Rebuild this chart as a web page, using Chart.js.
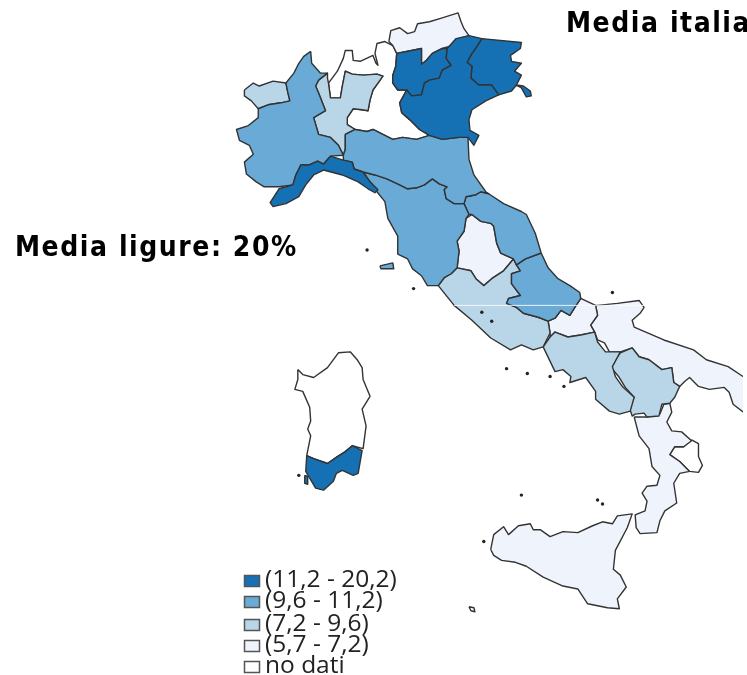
<!DOCTYPE html>
<html>
<head>
<meta charset="utf-8">
<title>Media ligure</title>
<script src="https://cdn.jsdelivr.net/npm/chart.js@4"></script>
<style>
html, body { margin: 0; padding: 0; background: #fff; overflow: hidden; }
#mappa { display: block; }
</style>
</head>
<body>
<canvas id="mappa" width="747" height="675"></canvas>
<script>
// classi della legenda
const classi = ['(11,2 - 20,2)', '(9,6 - 11,2)', '(7,2 - 9,6)', '(5,7 - 7,2)', 'no dati'];
const coloriClassi = ['#1570b4', '#69aad6', '#b9d5e8', '#eff3fb', '#ffffff'];

const altoAdige = [[389,38],[391,27],[400,24],[408,30],[415,28],[418,20],[430,18],[443,14],[459,9],[462,18],[465,25],[470,32],[460,35],[450,43],[443,45],[433,50],[427,57],[422,61],[422,45],[412,47],[397,50],[393,42]];
const trentino = [[397,50],[412,47],[422,45],[422,61],[427,57],[433,50],[443,45],[448,45],[447,55],[452,62],[443,67],[440,75],[430,77],[425,80],[422,92],[412,93],[407,87],[398,87],[393,80],[393,72],[396,63]];
const veneto = [[448,45],[457,35],[470,32],[483,35],[478,43],[473,50],[468,59],[473,63],[472,75],[480,82],[493,82],[500,92],[487,98],[473,107],[470,117],[471,128],[480,133],[475,143],[469,135],[460,135],[443,137],[430,133],[420,127],[410,117],[402,110],[400,100],[407,87],[412,93],[422,92],[425,80],[430,77],[440,75],[443,67],[452,62],[447,55]];
const friuli = [[483,35],[523,39],[522,45],[512,52],[513,58],[523,60],[516,68],[523,72],[518,82],[525,83],[532,88],[533,93],[528,94],[523,85],[518,82],[513,88],[500,92],[493,82],[480,82],[472,75],[473,63],[468,59],[473,50],[478,43]];
const lombardia = [[327,75],[328,80],[330,95],[340,95],[342,83],[345,68],[352,71],[363,72],[377,71],[383,73],[378,80],[373,87],[370,97],[368,108],[362,107],[353,106],[347,115],[347,122],[355,127],[345,132],[345,147],[343,153],[338,143],[330,135],[318,132],[313,115],[325,108],[318,90],[315,83],[318,77],[327,70]];
const lombardiaNord = [[330,95],[328,80],[337,68],[343,55],[345,47],[352,47],[353,57],[360,58],[373,52],[376,60],[378,62],[375,50],[377,40],[385,38],[393,42],[397,50],[396,63],[393,72],[393,80],[398,87],[407,87],[400,100],[402,110],[410,117],[420,127],[430,133],[417,137],[403,135],[393,137],[383,132],[373,127],[367,129],[355,127],[347,122],[347,115],[353,106],[362,107],[368,108],[370,97],[373,87],[378,80],[383,73],[377,71],[363,72],[352,71],[345,68],[342,83],[340,95]];
const aosta = [[243,87],[252,80],[258,83],[272,78],[285,80],[287,90],[289,98],[280,100],[267,102],[257,106],[250,98],[243,93]];
const piemonte = [[310,48],[311,60],[320,70],[327,70],[318,77],[315,83],[318,90],[325,108],[313,115],[318,132],[330,135],[338,143],[343,153],[330,154],[323,162],[317,159],[308,163],[300,163],[295,173],[292,183],[278,185],[263,185],[255,180],[245,172],[243,160],[252,152],[248,143],[238,138],[235,127],[247,123],[257,115],[257,106],[267,102],[280,100],[289,98],[287,90],[285,80],[293,70],[298,60],[303,53]];
const liguria = [[330,154],[343,158],[352,160],[354,167],[363,170],[370,180],[378,188],[375,191],[368,187],[358,180],[342,173],[323,168],[313,173],[305,183],[298,195],[285,202],[272,205],[269,201],[278,187],[292,183],[295,173],[300,163],[308,163],[317,159],[323,162]];
const emilia = [[345,132],[355,127],[367,129],[373,127],[383,132],[393,137],[403,135],[417,137],[430,133],[443,137],[460,135],[469,135],[470,157],[475,173],[487,190],[490,192],[482,190],[477,193],[467,195],[465,202],[455,202],[447,197],[445,188],[448,185],[440,182],[433,177],[425,183],[417,186],[408,187],[400,183],[387,177],[375,173],[363,170],[354,167],[352,160],[343,158],[343,153],[345,147]];
const toscana = [[363,170],[375,173],[387,177],[400,183],[408,187],[417,186],[425,183],[433,177],[440,182],[448,185],[445,188],[447,197],[455,202],[465,202],[470,213],[467,217],[465,230],[458,240],[460,250],[458,267],[452,273],[445,277],[439,285],[428,285],[422,275],[413,268],[408,258],[398,253],[398,235],[388,217],[385,200],[377,190],[370,180]];
const umbria = [[473,213],[467,217],[465,230],[458,240],[460,250],[458,267],[472,270],[477,278],[485,285],[493,278],[505,270],[515,258],[502,252],[498,242],[495,225],[492,222],[482,220]];
const marche = [[490,192],[505,202],[523,210],[528,213],[537,232],[543,252],[527,258],[518,264],[515,258],[502,252],[498,242],[495,225],[492,222],[482,220],[473,213],[470,213],[465,202],[467,195],[477,193],[482,190]];
const abruzzo = [[543,252],[550,267],[560,278],[572,285],[582,292],[583,298],[577,307],[572,315],[563,310],[557,318],[550,321],[540,317],[525,313],[518,307],[508,303],[510,298],[522,295],[513,283],[513,273],[522,270],[518,264],[527,258]];
const lazio = [[439,285],[455,305],[473,320],[492,338],[512,350],[523,345],[535,350],[545,347],[552,333],[550,321],[540,317],[525,313],[518,307],[508,303],[510,298],[522,295],[513,283],[513,273],[522,270],[518,264],[515,258],[505,270],[493,278],[485,285],[477,278],[472,270],[458,267],[452,273],[445,277]];
const molise = [[550,321],[557,318],[563,310],[572,315],[577,307],[583,298],[598,305],[600,315],[593,325],[597,332],[583,335],[570,337],[557,332],[552,337],[552,333]];
const puglia = [[598,305],[600,305],[620,303],[642,300],[647,307],[643,313],[635,320],[637,327],[667,340],[697,350],[710,360],[732,367],[750,379],[750,415],[737,405],[733,393],[728,388],[713,390],[702,387],[693,378],[688,382],[683,387],[677,383],[675,368],[665,370],[652,360],[642,357],[635,348],[623,352],[612,352],[607,343],[600,340],[597,332],[593,325],[600,315]];
const campania = [[545,347],[552,337],[557,332],[570,337],[583,335],[597,332],[600,342],[608,352],[623,352],[615,367],[618,377],[625,387],[637,398],[633,412],[622,415],[612,412],[598,400],[598,392],[588,378],[572,383],[573,377],[565,370],[557,372]];
const basilicata = [[623,353],[635,348],[642,357],[652,360],[665,370],[675,368],[677,383],[683,387],[678,398],[673,404],[665,405],[662,417],[650,418],[647,414],[638,415],[635,417],[632,408],[637,398],[628,388],[622,378],[613,367]];
const calabria = [[637,418],[650,418],[663,415],[667,405],[673,404],[675,413],[670,423],[675,432],[685,433],[695,442],[687,448],[678,448],[673,456],[683,463],[693,473],[683,475],[677,485],[680,505],[668,513],[663,523],[660,535],[643,536],[639,530],[638,517],[648,513],[650,503],[645,495],[650,488],[660,487],[663,477],[655,468],[652,450],[642,437]];
const crotone = [[695,441],[702,445],[702,458],[706,467],[702,474],[693,473],[683,463],[673,456],[678,448],[687,448]];
const sicilia = [[492,552],[495,537],[505,529],[510,537],[520,528],[532,526],[535,532],[542,532],[552,539],[565,534],[580,535],[595,528],[605,524],[615,526],[620,518],[635,516],[630,530],[618,553],[616,572],[623,578],[629,590],[620,602],[622,612],[610,611],[590,607],[580,592],[565,589],[545,580],[528,569],[517,565],[503,563],[495,558]];
const sardegnaNord = [[297,370],[302,375],[313,378],[327,368],[338,353],[350,352],[357,360],[362,368],[363,380],[370,397],[362,410],[366,427],[363,450],[352,447],[345,453],[337,458],[327,465],[313,460],[306,457],[310,437],[307,430],[310,422],[309,408],[302,392],[294,390],[297,380]];
const sardegnaSud = [[306,457],[313,460],[327,465],[337,458],[345,453],[352,447],[362,452],[358,475],[353,477],[342,472],[336,475],[333,483],[323,492],[315,490],[305,473]];
const elba = [[380,265],[393,262],[394,268],[381,268]];
const santAntioco = [[304,477],[307,478],[307,486],[304,485]];
const pantelleria = [[470,610],[475,611],[476,615],[472,614]];
const isolette = [[367,249],[414,288],[483,312],[493,321],[508,369],[529,374],[552,377],[566,387],[615,292],[523,497],[600,502],[605,506],[485,544],[298,477]];
const cucitura = [[455,305],[647,305]];

const regioni = [
  [veneto, 0], [trentino, 0], [friuli, 0], [liguria, 0], [sardegnaSud, 0], [santAntioco, 0],
  [piemonte, 1], [emilia, 1], [toscana, 1], [marche, 1], [abruzzo, 1], [elba, 1],
  [aosta, 2], [lombardia, 2], [lazio, 2], [campania, 2], [basilicata, 2],
  [altoAdige, 3], [umbria, 3], [molise, 3], [puglia, 3], [calabria, 3], [sicilia, 3],
  [lombardiaNord, 4], [crotone, 4], [sardegnaNord, 4], [pantelleria, 4]
];

const datasets = regioni.map(([punti, classe]) => ({
  data: punti.concat([punti[0]]),
  showLine: true,
  tension: 0,
  pointRadius: 0,
  fill: 'shape',
  backgroundColor: coloriClassi[classe],
  borderColor: '#333',
  borderWidth: 1.4,
  borderJoinStyle: 'round'
}));
datasets.unshift({ data: isolette, showLine: false, pointRadius: 1.7, pointBackgroundColor: '#222', pointBorderWidth: 0 });
datasets.unshift({ data: cucitura, showLine: true, pointRadius: 0, borderColor: 'rgba(255,255,255,0.85)', borderWidth: 1, fill: false });

// legenda e scritte
const testi = {
  id: 'testi',
  afterDraw(chart) {
    const c = chart.ctx;
    c.save();
    classi.forEach((t, i) => {
      const y = [581, 602, 625, 646, 667][i];
      c.fillStyle = coloriClassi[i];
      c.strokeStyle = '#555';
      c.lineWidth = 1.5;
      c.fillRect(244, y - 6, 16, 12);
      c.strokeRect(244.5, y - 5.5, 15, 11);
      c.fillStyle = '#222';
      c.font = '24.5px "Open Sans"';
      c.textBaseline = 'middle';
      c.fillText(t, 265, y - 1);
    });
    c.fillStyle = '#000';
    c.textBaseline = 'alphabetic';
    c.font = 'bold 28px "DejaVu Sans Condensed"';
    c.letterSpacing = '1.55px';
    c.fillText('Media italia', 566, 32);
    c.fillText('Media ligure: 20%', 15, 256);
    c.restore();
  }
};

new Chart(document.getElementById('mappa'), {
  type: 'scatter',
  data: { datasets },
  plugins: [testi],
  options: {
    responsive: false,
    animation: false,
    layout: { padding: 0 },
    plugins: { legend: { display: false }, tooltip: { enabled: false }, title: { display: false } },
    scales: {
      x: { type: 'linear', display: false, min: 0, max: 747 },
      y: { type: 'linear', display: false, min: 0, max: 675, reverse: true }
    }
  }
});
</script>
</body>
</html>
